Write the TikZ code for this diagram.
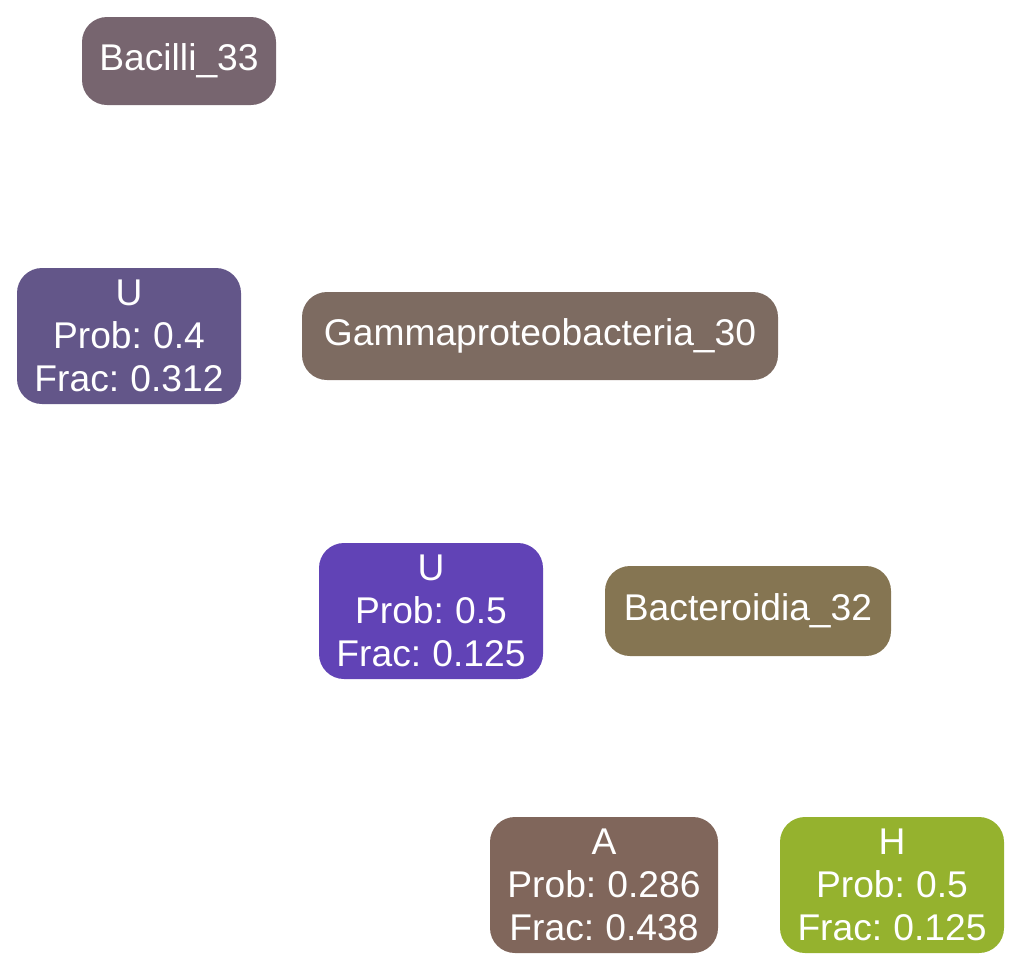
\documentclass[tikz,border=0pt]{standalone}
\usepackage{fontspec}
\setmainfont[WordSpace=0.75]{Liberation Sans}
\usepackage{xcolor}
\usepackage{tikz}
\usetikzlibrary{positioning}
\definecolor{bacgrey}{HTML}{77656F}
\definecolor{uviolet}{HTML}{635689}
\definecolor{gammabrown}{HTML}{7D6B61}
\definecolor{upurple}{HTML}{6143B6}
\definecolor{bacolive}{HTML}{857552}
\definecolor{abrown}{HTML}{80665B}
\definecolor{hgreen}{HTML}{95B22E}
\tikzset{
  taxon/.style={rectangle, rounded corners=12.5pt, text=white, align=center,
    inner sep=0pt, minimum height=44pt, font=\fontsize{18.6}{21.5}\selectfont},
  state/.style={taxon, minimum width=112pt, minimum height=68pt}
}

\begin{document}
\begin{tikzpicture}[x=0.5pt, y=-0.5pt]
  \useasboundingbox (0,0) rectangle (1022,971);
  \node[taxon, fill=bacgrey, minimum width=97pt] (bacilli) at (179,61) {Bacilli\_33};
  \node[state, fill=uviolet] (uone) at (129,336) {U\\Prob: 0.4\\Frac: 0.312};
  \node[taxon, fill=gammabrown, minimum width=238pt] (gamma) at (540,336) {Gammaproteobacteria\_30};
  \node[state, fill=upurple] (utwo) at (431,611) {U\\Prob: 0.5\\Frac: 0.125};
  \node[taxon, fill=bacolive, minimum width=143pt, minimum height=45pt] (bacter) at (748,611) {Bacteroidia\_32};
  \node[state, fill=abrown, minimum width=114pt] (astate) at (604,885) {A\\Prob: 0.286\\Frac: 0.438};
  \node[state, fill=hgreen] (hstate) at (892,885) {H\\Prob: 0.5\\Frac: 0.125};
\end{tikzpicture}
\end{document}
